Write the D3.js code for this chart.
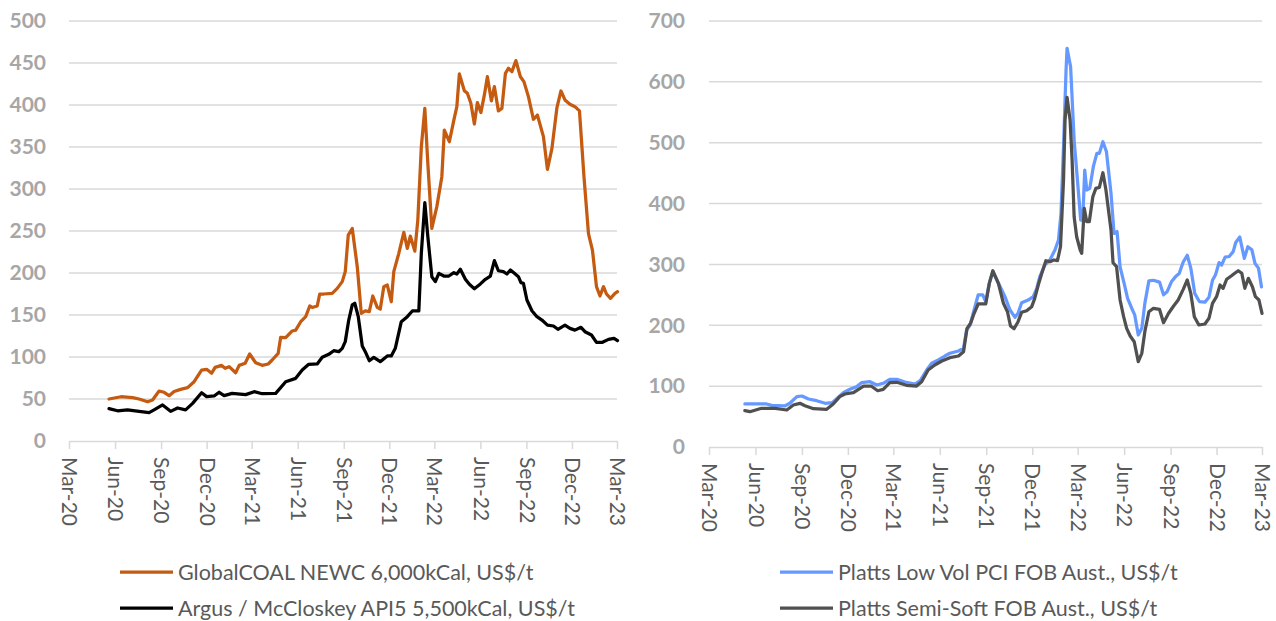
<!DOCTYPE html>
<html>
<head>
<meta charset="utf-8">
<script src="https://cdn.jsdelivr.net/npm/d3@7"></script>
<style>
  body { margin: 0; background: #fff; }
  svg { display: block; }
</style>
</head>
<body>
<svg id="chart" width="1276" height="621"></svg>
<script>
// quarter tick labels shared by both panels
const quarterTicks = ['Mar-20', 'Jun-20', 'Sep-20', 'Dec-20', 'Mar-21', 'Jun-21', 'Sep-21',
  'Dec-21', 'Mar-22', 'Jun-22', 'Sep-22', 'Dec-22', 'Mar-23'];

// thermal coal, US$/t
const newc = [
  ['2020-05-20', 50], ['2020-06-13', 52.7], ['2020-07-06', 51.6], ['2020-07-19', 50], ['2020-08-05', 46.8],
  ['2020-08-15', 48.8], ['2020-08-28', 59.5], ['2020-09-07', 58], ['2020-09-17', 54], ['2020-09-27', 59],
  ['2020-10-10', 61.5], ['2020-10-24', 63.5], ['2020-11-06', 70.6], ['2020-11-21', 84.5], ['2020-12-01', 85.3],
  ['2020-12-11', 80.6], ['2020-12-18', 87.7], ['2020-12-31', 90], ['2021-01-07', 86.5], ['2021-01-15', 88.5],
  ['2021-01-28', 81.3], ['2021-02-04', 90], ['2021-02-16', 92.5], ['2021-02-25', 103.6], ['2021-03-09', 93.2],
  ['2021-03-22', 90.1], ['2021-04-03', 91.7], ['2021-04-11', 96.4], ['2021-04-23', 104.4], ['2021-04-28', 123.4],
  ['2021-05-08', 123], ['2021-05-21', 131], ['2021-05-28', 132], ['2021-06-07', 142], ['2021-06-17', 148],
  ['2021-06-25', 160.7], ['2021-06-30', 159], ['2021-07-10', 160.7], ['2021-07-15', 175], ['2021-07-23', 175],
  ['2021-08-09', 175.8], ['2021-08-19', 181.7], ['2021-08-29', 189.7], ['2021-09-04', 201.6], ['2021-09-10', 245],
  ['2021-09-18', 253], ['2021-09-28', 207.5], ['2021-10-06', 152], ['2021-10-14', 154.8], ['2021-10-22', 154],
  ['2021-10-29', 172.6], ['2021-11-07', 159], ['2021-11-13', 157], ['2021-11-20', 183.7], ['2021-11-27', 185.7],
  ['2021-12-05', 165.8], ['2021-12-10', 201.6], ['2021-12-20', 223.4], ['2021-12-30', 248.4], ['2022-01-06', 229.4],
  ['2022-01-12', 244], ['2022-01-21', 226], ['2022-01-27', 263], ['2022-02-03', 350], ['2022-02-10', 396],
  ['2022-02-16', 330.6], ['2022-02-24', 253], ['2022-03-06', 279], ['2022-03-16', 314.7], ['2022-03-21', 370],
  ['2022-03-31', 356.3], ['2022-04-09', 382], ['2022-04-15', 398], ['2022-04-20', 437], ['2022-04-30', 417],
  ['2022-05-06', 414], ['2022-05-13', 402], ['2022-05-20', 377.4], ['2022-05-26', 402.8], ['2022-06-02', 391],
  ['2022-06-09', 412], ['2022-06-15', 433.7], ['2022-06-23', 405], ['2022-06-29', 421.8], ['2022-07-07', 393],
  ['2022-07-14', 396], ['2022-07-21', 437.7], ['2022-07-27', 443.7], ['2022-08-03', 439.7], ['2022-08-11', 452.8],
  ['2022-08-20', 433.7], ['2022-08-27', 427.8], ['2022-09-05', 410], ['2022-09-15', 383], ['2022-09-23', 388],
  ['2022-10-05', 362.3], ['2022-10-13', 323.4], ['2022-10-22', 348.4], ['2022-11-01', 397], ['2022-11-09', 416.7],
  ['2022-11-17', 406], ['2022-11-27', 400.8], ['2022-12-07', 398], ['2022-12-16', 393], ['2022-12-25', 314.7],
  ['2023-01-03', 247], ['2023-01-11', 227], ['2023-01-19', 183.7], ['2023-01-26', 172.6], ['2023-02-02', 183.7],
  ['2023-02-08', 175], ['2023-02-16', 169.8], ['2023-02-25', 175.8], ['2023-03-02', 177.8]
];

const api5 = [
  ['2020-05-20', 38.5], ['2020-06-06', 36], ['2020-06-26', 37], ['2020-07-19', 35.3], ['2020-08-08', 33.7],
  ['2020-08-18', 37], ['2020-09-04', 42.9], ['2020-09-20', 35.3], ['2020-10-04', 39.3], ['2020-10-20', 37],
  ['2020-11-03', 44.8], ['2020-11-21', 57.5], ['2020-12-01', 52.8], ['2020-12-16', 53.6], ['2020-12-26', 58],
  ['2021-01-05', 54], ['2021-01-21', 56.7], ['2021-02-17', 55.2], ['2021-03-06', 58.7], ['2021-03-22', 56.3],
  ['2021-04-18', 56.7], ['2021-05-08', 70.6], ['2021-05-28', 74.6], ['2021-06-10', 84.5], ['2021-06-23', 91.3],
  ['2021-07-10', 91.7], ['2021-07-20', 99.6], ['2021-08-02', 103.2], ['2021-08-12', 107.5], ['2021-08-22', 106.3],
  ['2021-08-29', 110.3], ['2021-09-04', 118.3], ['2021-09-11', 144], ['2021-09-18', 162], ['2021-09-23', 164],
  ['2021-09-30', 148], ['2021-10-08', 113], ['2021-10-14', 106.3], ['2021-10-22', 95.6], ['2021-10-31', 99.6],
  ['2021-11-13', 94.4], ['2021-11-27', 101.2], ['2021-12-05', 101.2], ['2021-12-13', 110.3], ['2021-12-25', 142],
  ['2022-01-06', 148], ['2022-01-16', 154.8], ['2022-01-29', 154.8], ['2022-02-03', 223.4], ['2022-02-10', 283.7],
  ['2022-02-16', 243.3], ['2022-02-24', 195.6], ['2022-03-03', 189.7], ['2022-03-10', 199.6], ['2022-03-20', 196.4],
  ['2022-03-30', 196.4], ['2022-04-09', 200.4], ['2022-04-15', 198.8], ['2022-04-22', 204.4], ['2022-05-02', 192.5],
  ['2022-05-10', 186.5], ['2022-05-20', 181.3], ['2022-06-01', 187], ['2022-06-11', 192.5], ['2022-06-21', 196.4],
  ['2022-06-29', 214.7], ['2022-07-07', 202.7], ['2022-07-17', 201.6], ['2022-07-24', 198.8], ['2022-07-31', 203.6],
  ['2022-08-08', 199.6], ['2022-08-16', 195.6], ['2022-08-21', 188.5], ['2022-08-26', 187.7], ['2022-09-02', 167.9],
  ['2022-09-12', 155.1], ['2022-09-22', 148], ['2022-10-02', 144], ['2022-10-13', 138], ['2022-10-25', 136.9],
  ['2022-11-03', 133], ['2022-11-17', 138], ['2022-11-27', 134.1], ['2022-12-07', 132], ['2022-12-19', 135.3],
  ['2022-12-27', 130.1], ['2023-01-09', 126.2], ['2023-01-19', 117.5], ['2023-01-31', 117.5], ['2023-02-12', 121],
  ['2023-02-23', 122.2], ['2023-03-02', 119.4]
];

// metallurgical coal, US$/t
const lvPci = [
  ['2020-05-11', 70.7], ['2020-05-31', 70.7], ['2020-06-23', 70.7], ['2020-07-03', 68.5], ['2020-07-29', 67.4],
  ['2020-08-08', 71.8], ['2020-08-22', 82.7], ['2020-09-01', 83.8], ['2020-09-14', 78.9], ['2020-09-30', 76.1],
  ['2020-10-17', 71.8], ['2020-10-31', 72.8], ['2020-11-12', 81.7], ['2020-11-22', 89.2], ['2020-12-05', 94.8],
  ['2020-12-18', 99.1], ['2020-12-28', 105.7], ['2021-01-14', 107.3], ['2021-01-27', 101.9], ['2021-02-09', 104.7],
  ['2021-02-22', 111.2], ['2021-03-08', 111.2], ['2021-03-24', 106.8], ['2021-04-13', 103.5], ['2021-04-23', 108.9],
  ['2021-05-06', 126.5], ['2021-05-16', 137.5], ['2021-05-29', 143], ['2021-06-11', 149.5], ['2021-06-21', 154],
  ['2021-07-08', 157.7], ['2021-07-18', 162.2], ['2021-07-24', 192.2], ['2021-07-31', 200.5], ['2021-08-06', 219.7],
  ['2021-08-16', 249.8], ['2021-08-25', 249.8], ['2021-08-31', 238.8], ['2021-09-07', 268.9], ['2021-09-14', 288],
  ['2021-09-27', 266.2], ['2021-10-08', 247], ['2021-10-18', 225.1], ['2021-10-28', 213.1], ['2021-11-03', 219.7],
  ['2021-11-10', 237.1], ['2021-11-23', 241.5], ['2021-12-03', 247], ['2021-12-10', 260.8], ['2021-12-16', 279.8],
  ['2021-12-26', 299], ['2022-01-05', 307.3], ['2022-01-15', 323.7], ['2022-01-22', 340.1], ['2022-01-27', 384],
  ['2022-02-01', 493.4], ['2022-02-06', 619.5], ['2022-02-08', 655.1], ['2022-02-15', 624.9], ['2022-02-22', 504.4],
  ['2022-02-28', 444.1], ['2022-03-07', 373], ['2022-03-11', 373], ['2022-03-15', 455], ['2022-03-19', 422.3],
  ['2022-03-25', 425], ['2022-04-01', 460.6], ['2022-04-08', 482.6], ['2022-04-13', 482.6], ['2022-04-20', 501.6],
  ['2022-04-27', 485.2], ['2022-05-06', 417], ['2022-05-12', 351], ['2022-05-18', 354], ['2022-05-24', 296],
  ['2022-06-01', 269], ['2022-06-08', 244], ['2022-06-16', 228], ['2022-06-22', 217], ['2022-06-29', 184],
  ['2022-07-06', 195], ['2022-07-12', 236], ['2022-07-20', 273], ['2022-07-29', 274], ['2022-08-10', 271],
  ['2022-08-18', 250], ['2022-08-25', 255], ['2022-09-03', 272], ['2022-09-11', 280], ['2022-09-18', 285],
  ['2022-09-26', 304], ['2022-10-04', 315], ['2022-10-11', 294], ['2022-10-19', 252], ['2022-10-28', 239],
  ['2022-11-08', 238], ['2022-11-16', 246], ['2022-11-23', 274], ['2022-11-29', 283], ['2022-12-06', 303],
  ['2022-12-11', 299], ['2022-12-18', 312], ['2022-12-26', 313], ['2023-01-03', 321], ['2023-01-08', 336],
  ['2023-01-16', 345], ['2023-01-25', 310], ['2023-02-01', 329], ['2023-02-09', 324], ['2023-02-15', 302],
  ['2023-02-22', 294], ['2023-02-28', 263]
];

const semiSoft = [
  ['2020-05-11', 59.7], ['2020-05-21', 58], ['2020-06-13', 63.6], ['2020-07-10', 63.6], ['2020-08-02', 60.8],
  ['2020-08-15', 69], ['2020-08-28', 71.8], ['2020-09-07', 67.9], ['2020-09-24', 62.9], ['2020-10-20', 61.9],
  ['2020-11-02', 70.7], ['2020-11-15', 82.7], ['2020-11-25', 87.1], ['2020-12-12', 89.2], ['2021-01-01', 100.2],
  ['2021-01-16', 100.2], ['2021-01-29', 92.5], ['2021-02-09', 94.8], ['2021-02-22', 105.7], ['2021-03-08', 106.3],
  ['2021-03-27', 101.4], ['2021-04-16', 100.2], ['2021-04-26', 107.3], ['2021-05-09', 126.5], ['2021-05-22', 134.7],
  ['2021-06-05', 141.3], ['2021-06-21', 146.8], ['2021-07-08', 149.5], ['2021-07-18', 156.6], ['2021-07-25', 195],
  ['2021-08-01', 203.3], ['2021-08-08', 219.7], ['2021-08-16', 235], ['2021-08-31', 235], ['2021-09-07', 268.9],
  ['2021-09-14', 289.7], ['2021-09-25', 268.9], ['2021-10-05', 236.1], ['2021-10-13', 222.3], ['2021-10-19', 198.8],
  ['2021-10-26', 194.4], ['2021-11-03', 205.9], ['2021-11-10', 221.3], ['2021-11-20', 224], ['2021-11-30', 230.6],
  ['2021-12-06', 244.3], ['2021-12-13', 266.2], ['2021-12-20', 285.4], ['2021-12-28', 306.1], ['2022-01-05', 304.5],
  ['2022-01-13', 307.3], ['2022-01-20', 306.1], ['2022-01-26', 329.1], ['2022-02-01', 438.7], ['2022-02-04', 537.3],
  ['2022-02-08', 574.6], ['2022-02-14', 537.3], ['2022-02-18', 471.6], ['2022-02-22', 378.4], ['2022-02-27', 345.5],
  ['2022-03-06', 323.7], ['2022-03-09', 318.3], ['2022-03-14', 392.2], ['2022-03-19', 370.2], ['2022-03-24', 370.2],
  ['2022-03-31', 411.3], ['2022-04-06', 425], ['2022-04-13', 426.7], ['2022-04-20', 450.7], ['2022-04-26', 422.3],
  ['2022-05-06', 356.6], ['2022-05-10', 302.8], ['2022-05-17', 296.3], ['2022-05-24', 241.5], ['2022-05-31', 214.1],
  ['2022-06-06', 195], ['2022-06-13', 182.4], ['2022-06-21', 173], ['2022-06-29', 140.2], ['2022-07-06', 154],
  ['2022-07-12', 189.5], ['2022-07-20', 222.3], ['2022-07-29', 227.9], ['2022-08-10', 226.3], ['2022-08-18', 204.3],
  ['2022-08-28', 219.7], ['2022-09-07', 231.7], ['2022-09-16', 241.5], ['2022-09-26', 259.1], ['2022-10-04', 274.4],
  ['2022-10-11', 252.5], ['2022-10-18', 214.1], ['2022-10-27', 200.5], ['2022-11-08', 202.1], ['2022-11-16', 211.5],
  ['2022-11-23', 236.1], ['2022-12-01', 247], ['2022-12-08', 266.2], ['2022-12-14', 260.8], ['2022-12-21', 275.6],
  ['2022-12-30', 281], ['2023-01-06', 285.4], ['2023-01-13', 289.7], ['2023-01-20', 285.4], ['2023-01-26', 260.8],
  ['2023-02-02', 277.2], ['2023-02-10', 263.4], ['2023-02-16', 247], ['2023-02-23', 241.5], ['2023-03-01', 219.7]
];

const leftNames = ['GlobalCOAL NEWC 6,000kCal, US$/t', 'Argus / McCloskey API5 5,500kCal, US$/t'];
const rightNames = ['Platts Low Vol PCI FOB Aust., US$/t', 'Platts Semi-Soft FOB Aust., US$/t'];

const parseDate = d3.timeParse('%Y-%m-%d');
const parseTick = d3.timeParse('%b-%y');
const fmtTick = d3.timeFormat('%b-%y');
const tickDates = quarterTicks.map(parseTick);

const svg = d3.select('#chart');
const FONT = 'Lato, "Open Sans", sans-serif';
const GRID = '#d9d9d9';

function drawPanel(cfg) {
  const g = svg.append('g');

  const x = d3.scaleTime()
    .domain(d3.extent(tickDates))
    .range([cfg.left, cfg.right]);
  const y = d3.scaleLinear()
    .domain([0, cfg.yMax])
    .range([cfg.bottom, cfg.top]);
  const yTicks = d3.range(0, cfg.yMax + 1, cfg.yStep);

  // gridlines
  g.append('g')
    .selectAll('line')
    .data(yTicks.filter(v => v > 0))
    .join('line')
    .attr('x1', cfg.left)
    .attr('x2', cfg.right)
    .attr('y1', d => y(d))
    .attr('y2', d => y(d))
    .attr('stroke', GRID)
    .attr('stroke-width', 1.5);

  // y axis labels
  const yAxis = g.append('g')
    .attr('transform', `translate(${cfg.left},0)`)
    .call(d3.axisLeft(y).tickValues(yTicks).tickSize(0).tickPadding(cfg.labelPad));
  yAxis.select('.domain').remove();
  yAxis.selectAll('text')
    .style('font-family', FONT)
    .style('font-size', '21px')
    .style('font-weight', 'bold')
    .attr('fill', '#a6a6a6');

  // x axis
  const xAxis = g.append('g')
    .attr('transform', `translate(0,${cfg.bottom})`)
    .call(d3.axisBottom(x).tickValues(tickDates).tickFormat(fmtTick).tickSize(8).tickSizeOuter(0));
  xAxis.select('.domain').attr('stroke', GRID).attr('stroke-width', 1.5);
  xAxis.selectAll('.tick line').attr('stroke', GRID).attr('stroke-width', 1.5);
  xAxis.selectAll('text')
    .attr('transform', 'rotate(90)')
    .attr('x', 16)
    .attr('y', 0)
    .attr('dy', '0.35em')
    .attr('text-anchor', 'start')
    .style('font-family', FONT)
    .style('font-size', '21px')
    .attr('fill', '#595959');

  // series lines
  const line = d3.line()
    .x(d => x(parseDate(d[0])))
    .y(d => y(d[1]));

  cfg.series.forEach(s => {
    g.append('path')
      .datum(s.data)
      .attr('d', line)
      .attr('fill', 'none')
      .attr('stroke', s.color)
      .attr('stroke-width', 3.25)
      .attr('stroke-linejoin', 'round')
      .attr('stroke-linecap', 'round');
  });

  // legend
  const legend = g.append('g')
    .selectAll('g')
    .data(cfg.series)
    .join('g')
    .attr('transform', (d, i) => `translate(${cfg.legendX},${cfg.legendY + i * 36})`);
  legend.append('line')
    .attr('x1', 0)
    .attr('x2', 53)
    .attr('stroke', d => d.color)
    .attr('stroke-width', 3.25);
  legend.append('text')
    .attr('x', 58)
    .attr('dy', '0.35em')
    .text(d => d.name)
    .style('font-family', FONT)
    .style('font-size', '21.5px')
    .attr('fill', '#595959');
}

drawPanel({
  left: 69, right: 617, top: 21, bottom: 441,
  yMax: 500, yStep: 50, labelPad: 23,
  legendX: 120, legendY: 572,
  series: [
    { name: leftNames[0], data: newc, color: '#c55a11' },
    { name: leftNames[1], data: api5, color: '#000000' }
  ]
});

drawPanel({
  left: 709, right: 1262, top: 21, bottom: 447,
  yMax: 700, yStep: 100, labelPad: 24,
  legendX: 780, legendY: 572,
  series: [
    { name: rightNames[0], data: lvPci, color: '#6699ff' },
    { name: rightNames[1], data: semiSoft, color: '#505050' }
  ]
});
</script>
</body>
</html>
